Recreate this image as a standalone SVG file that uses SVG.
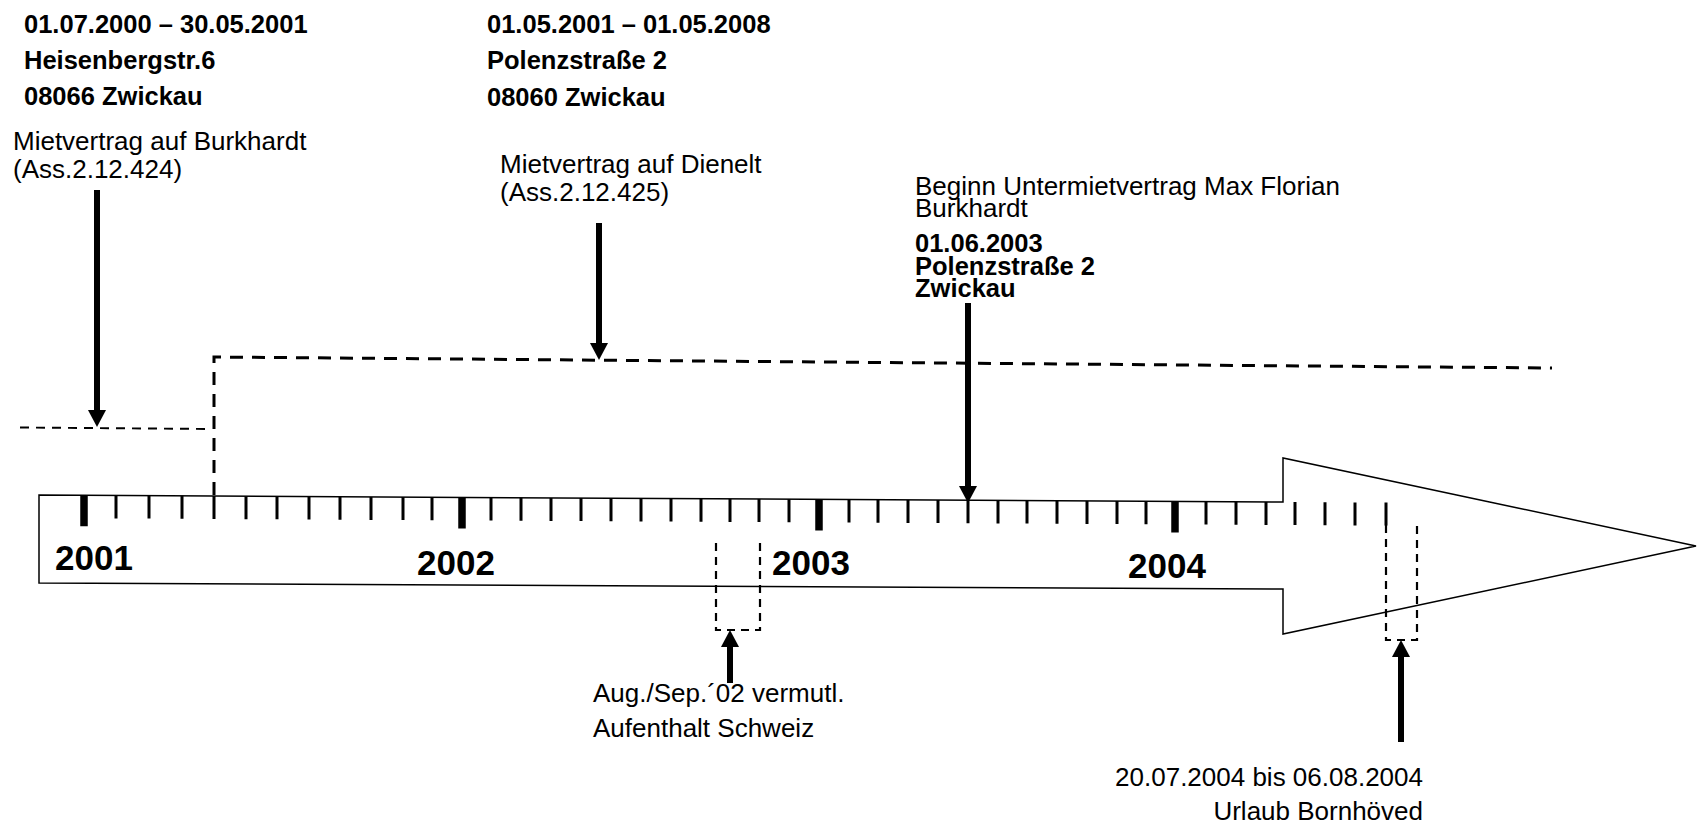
<svg xmlns="http://www.w3.org/2000/svg" width="1698" height="828" viewBox="0 0 1698 828">
<style>
.b{font-family:"Liberation Sans",Arial,sans-serif;font-weight:bold;font-size:25.5px;fill:#000}
.r{font-family:"Liberation Sans",Arial,sans-serif;font-size:26px;fill:#000}
.yr{font-family:"Liberation Sans",Arial,sans-serif;font-weight:bold;font-size:35px;fill:#000}
.arr{stroke:#000;stroke-width:6;fill:none}
.dl{stroke:#000;stroke-width:3;fill:none;stroke-dasharray:13 9}
.ds{stroke:#000;stroke-width:2;fill:none;stroke-dasharray:9 7}
.db{stroke:#000;stroke-width:2.2;fill:none;stroke-dasharray:8 6}
.tk{stroke:#000;stroke-width:3;fill:none}
.tm{stroke:#000;stroke-width:7.5;fill:none}
</style>
<defs>
<marker id="ah" viewBox="0 0 17 18" refX="0" refY="9" markerWidth="17" markerHeight="18" markerUnits="userSpaceOnUse" orient="auto"><path d="M0 0L17 9L0 18z" fill="#000"/></marker>
</defs>
<rect width="1698" height="828" fill="#fff"/>

<g id="timeline">
<polygon points="39,495 1283,502 1283,458 1696,546 1283,634 1283,589 39,583" fill="#fff" stroke="#000" stroke-width="1.5"/>
<path class="tm" d="M84 495.3v31M462 497.4v31M819 499.4v31M1175 501.4v31"/>
<path class="tk" d="M116 495.4v23M149 495.6v23M182 495.8v23M214 496v23M246 496.2v23M277 496.3v23M309 496.5v23M340 496.7v23M371 496.9v23M403 497v23M432 497.2v23M491 497.5v23M521 497.7v23M551 497.9v23M581 498v23M611 498.2v23M641 498.4v23M671 498.5v23M701 498.7v23M730 498.9v23M759 499v23M789 499.2v23M849 499.5v23M878 499.7v23M908 499.9v23M938 500v23M968 500.2v23M998 500.4v23M1027 500.5v23M1057 500.7v23M1087 500.9v23M1117 501v23M1146 501.2v23M1206 501.5v23M1236 501.7v23M1266 501.9v23M1295 502v23M1325 502.2v23M1355 502.4v23M1386 502.5v23"/>
<text class="yr" x="55" y="570">2001</text>
<text class="yr" x="417" y="575">2002</text>
<text class="yr" x="772" y="575">2003</text>
<text class="yr" x="1128" y="578">2004</text>
</g>

<g id="addr1">
<text class="b" x="24" y="33">01.07.2000 – 30.05.2001</text>
<text class="b" x="24" y="69">Heisenbergstr.6</text>
<text class="b" x="24" y="105">08066 Zwickau</text>
</g>
<g id="addr2">
<text class="b" x="487" y="33">01.05.2001 – 01.05.2008</text>
<text class="b" x="487" y="69">Polenzstraße 2</text>
<text class="b" x="487" y="106">08060 Zwickau</text>
</g>
<g id="burkhardt">
<text class="r" x="13" y="150">Mietvertrag auf Burkhardt</text>
<text class="r" x="13" y="178">(Ass.2.12.424)</text>
</g>
<g id="dienelt">
<text class="r" x="500" y="173">Mietvertrag auf Dienelt</text>
<text class="r" x="500" y="201">(Ass.2.12.425)</text>
</g>
<g id="untermiet">
<text class="r" x="915" y="195">Beginn Untermietvertrag Max Florian</text>
<text class="r" x="915" y="217">Burkhardt</text>
<text class="b" x="915" y="252">01.06.2003</text>
<text class="b" x="915" y="275">Polenzstraße 2</text>
<text class="b" x="915" y="297">Zwickau</text>
</g>
<g id="schweiz">
<path class="db" d="M716 543V630H760V543"/>
<text class="r" x="593" y="702">Aug./Sep.´02 vermutl.</text>
<text class="r" x="593" y="737">Aufenthalt Schweiz</text>
</g>
<g id="urlaub">
<path class="db" d="M1386 525V640H1417V522"/>
<text class="r" x="1423" y="786" text-anchor="end">20.07.2004 bis 06.08.2004</text>
<text class="r" x="1423" y="820" text-anchor="end">Urlaub Bornhöved</text>
</g>

<g id="connectors">
<path class="ds" d="M20 427.5L212 429"/>
<path class="dl" d="M214 495V357L1552 368"/>
<line class="arr" x1="97" y1="190" x2="97" y2="410" marker-end="url(#ah)"/>
<line class="arr" x1="599" y1="223" x2="599" y2="343" marker-end="url(#ah)"/>
<line class="arr" x1="968" y1="303" x2="968" y2="486" stroke-width="5" marker-end="url(#ah)"/>
<line class="arr" x1="730" y1="683" x2="730" y2="647" marker-end="url(#ah)"/>
<line class="arr" x1="1401" y1="742" x2="1401" y2="657" marker-end="url(#ah)"/>
</g>
</svg>
